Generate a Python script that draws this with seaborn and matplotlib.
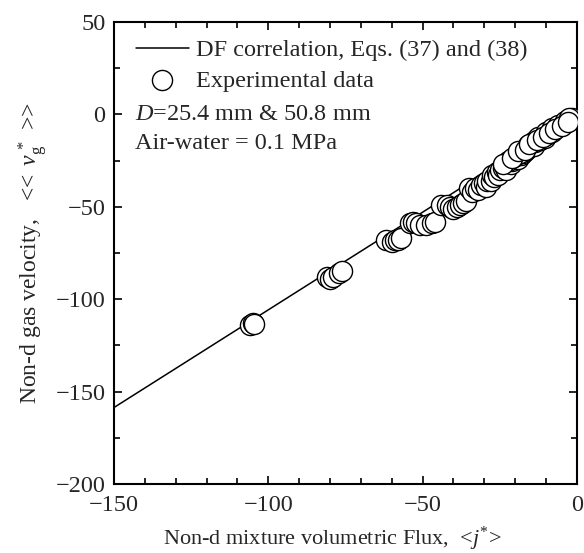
import numpy as np
import pandas as pd
import matplotlib
matplotlib.use("Agg")
import matplotlib.pyplot as plt
import seaborn as sns
from matplotlib.ticker import MultipleLocator

j_star = [-106, -105, -104.5,
          -81, -80, -79, -77, -76,
          -62, -60, -59, -58, -57,
          -54, -53, -52, -51, -49, -47, -46,
          -44, -42, -41, -40, -39, -38, -37, -36,
          -35, -34, -33, -32, -31, -30, -29.5, -29, -28, -27.5, -27, -26, -25.5,
          -25, -24, -23.5, -23, -22, -21.5, -21, -20, -19.5, -19, -18, -17.5,
          -17, -16.5, -16, -15, -14.5, -14, -13.5, -13, -12, -11.5, -11, -10.5,
          -10, -9.5, -9, -8.5, -8, -7.5, -7, -6.5, -6, -5.5, -5, -4.5, -4,
          -3.5, -3, -2.5, -2, -1.5,
          -22.5, -20.5, -18.5, -16, -14, -12.5, -10, -8, -6, -4, -2.5,
          -24, -21, -19, -17, -15.5, -13, -11, -9, -7, -5, -3]
vg_star = [-114, -113, -113.5,
           -88, -89, -88, -86, -85,
           -68, -69, -68, -68, -67,
           -59, -58, -59, -60, -60, -59, -58,
           -49, -49, -50, -51, -50, -49, -48, -47,
           -40, -42, -40, -41, -38, -37, -39, -36, -36, -33, -34, -31, -33,
           -30, -29, -28, -30, -26, -27, -25, -24, -23, -24, -22, -21,
           -20, -19, -18, -17, -16.5, -17, -15, -14, -14, -13, -12, -12.5,
           -11, -10.5, -10, -9, -9.5, -8, -8, -7, -6.5, -6, -5.5, -5, -4.5,
           -4, -3.5, -3, -2.5, -2,
           -25, -23, -21, -16.5, -14.5, -12, -9.5, -7.5, -5.5, -3.5, -2,
           -27, -23.5, -20, -19, -16, -14, -12, -10, -8, -6, -4]

# DF correlation line endpoints in <j*>
j_line = [-150, 0]
C0 = 1.058
Vgj = 0.0
vg_line = [C0 * x + Vgj for x in j_line]

sns.set_style("ticks")
plt.rcParams['font.family'] = ['Liberation Serif', 'DejaVu Serif']
plt.rcParams['mathtext.fontset'] = 'custom'
plt.rcParams['mathtext.rm'] = 'Liberation Serif'
plt.rcParams['mathtext.it'] = 'Liberation Serif:italic'
plt.rcParams['mathtext.bf'] = 'Liberation Serif:bold'

fig = plt.figure(figsize=(5.84, 5.53), dpi=100)
ax = fig.add_axes([0.195, 0.125, 0.793, 0.835])

df_line = pd.DataFrame({"j": j_line, "vg": vg_line})
df_pts = pd.DataFrame({"j": j_star, "vg": vg_star})

sns.lineplot(data=df_line, x="j", y="vg", ax=ax, color="black", lw=1.1,
             label="DF correlation, Eqs. (37) and (38)")
sns.scatterplot(data=df_pts, x="j", y="vg", ax=ax, s=210, facecolor="white",
                edgecolor="black", linewidth=1.0, marker="o",
                label="Experimental data", zorder=3)

ax.set_xlim(-150, 0)
ax.set_ylim(-200, 50)
ax.xaxis.set_major_locator(MultipleLocator(50))
ax.xaxis.set_minor_locator(MultipleLocator(10))
ax.yaxis.set_major_locator(MultipleLocator(50))
ax.yaxis.set_minor_locator(MultipleLocator(25))
ax.tick_params(which="both", direction="in", top=True, right=True,
               labelsize=17.5, width=1.2, color="black")
ax.tick_params(which="major", length=6)
ax.tick_params(which="minor", length=4)
ax.tick_params(axis="x", which="major", pad=8)
ax.tick_params(axis="y", which="major", pad=6)
for sp in ax.spines.values():
    sp.set_linewidth(1.5)
    sp.set_color("black")

ax.set_xlabel(r"Non-d mixture volumetric Flux,  <$j^{*}$>", fontsize=16, labelpad=6)
ax.xaxis.label.set_x(0.472)
ax.set_ylabel(r"Non-d gas velocity,   <<$\ \,v_{\rm g}^{\,*}\ \,$>>", fontsize=17, labelpad=4)

leg = ax.legend(loc="upper left", frameon=False, fontsize=17.5,
                handlelength=2.2, handletextpad=0.3, borderaxespad=0.3,
                labelspacing=0.35, bbox_to_anchor=(0.01, 1.0))
ax.text(0.045, 0.800, r"$\it{D}$=25.4 mm & 50.8 mm", transform=ax.transAxes,
        fontsize=17.5, va="center", ha="left")
ax.text(0.045, 0.738, "Air-water = 0.1 MPa", transform=ax.transAxes,
        fontsize=17.5, va="center", ha="left")

fig.savefig("out.png", dpi=100)
